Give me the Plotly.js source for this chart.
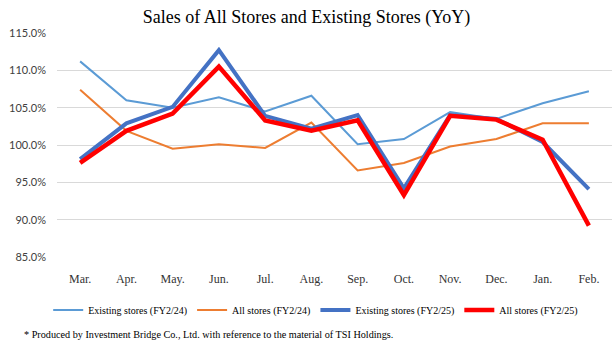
<!DOCTYPE html>
<html><head><meta charset="utf-8">
<script src="https://cdn.plot.ly/plotly-3.0.1.min.js"></script>
<style>html,body{margin:0;padding:0;background:#fff;}#chart{width:613px;height:346px;}</style>
</head><body><div id="chart"></div>
<script>
const months = ["Mar.","Apr.","May.","Jun.","Jul.","Aug.","Sep.","Oct.","Nov.","Dec.","Jan.","Feb."];
const existingFY24 = [111.2,106.0,105.0,106.4,104.5,106.6,100.1,100.8,104.4,103.5,105.6,107.2];
const allFY24      = [107.4,101.9,99.5,100.1,99.6,103.0,96.6,97.6,99.8,100.8,102.9,102.9];
const existingFY25 = [98.1,102.9,105.1,112.7,103.9,102.2,104.0,94.2,104.0,103.5,100.4,94.1];
const allFY25      = [97.6,101.9,104.2,110.5,103.3,101.9,103.3,93.3,103.9,103.4,100.7,89.2];
const seriesNames = ["Existing stores (FY2/24)","All stores (FY2/24)","Existing stores (FY2/25)","All stores (FY2/25)"];
const yTicks = [85,90,95,100,105,110,115];

const serif = "Liberation Serif, Times New Roman, serif";
function tr(y, name, color, width){
  return {x: months, y: y, name: name, type: "scatter", mode: "lines",
          line: {color: color, width: width}, hoverinfo: "skip"};
}
const data = [
  tr(existingFY24, seriesNames[0], "#5B9BD5", 2),
  tr(allFY24, seriesNames[1], "#ED7D31", 2),
  tr(existingFY25, seriesNames[2], "#4472C4", 4),
  tr(allFY25, seriesNames[3], "#FF0000", 4.5)
];
const layout = {
  width: 613, height: 346,
  margin: {l: 57, r: 1, t: 33, b: 89},
  paper_bgcolor: "#fff", plot_bgcolor: "#fff",
  title: {text: "Sales of All Stores and Existing Stores (YoY)", font: {family: serif, size: 18, color: "#000"},
          x: 0.5, xref: "container", xanchor: "center", y: 0.953, yanchor: "middle"},
  showlegend: true,
  legend: {orientation: "h", xref: "container", x: 0.515, xanchor: "center", yref: "container", y: 0.104, yanchor: "middle",
           font: {family: serif, size: 10, color: "#000"}, itemwidth: 30, tracegroupgap: 0},
  xaxis: {type: "category", range: [-0.5, 11.5], showgrid: false, zeroline: false, showline: false, ticks: "",
          tickfont: {family: serif, size: 12, color: "#333"}, ticklabelstandoff: 13, fixedrange: true},
  yaxis: {range: [85, 115], tickvals: yTicks, ticktext: yTicks.map(v => v.toFixed(1) + "%"),
          showgrid: true, gridcolor: "#D9D9D9", gridwidth: 1, zeroline: false, showline: false,
          tickfont: {family: "Lato, Liberation Sans, sans-serif", size: 11, color: "#404040"},
          ticklabelstandoff: 10, fixedrange: true},
  annotations: [{text: "* Produced by Investment Bridge Co., Ltd. with reference to the material of TSI Holdings.",
                 xref: "paper", yref: "paper", x: -0.063, xanchor: "left", y: -0.348, yanchor: "middle",
                 showarrow: false, font: {family: serif, size: 10.2, color: "#000"}}]
};
Plotly.newPlot("chart", data, layout, {displayModeBar: false, staticPlot: true});
</script></body></html>
